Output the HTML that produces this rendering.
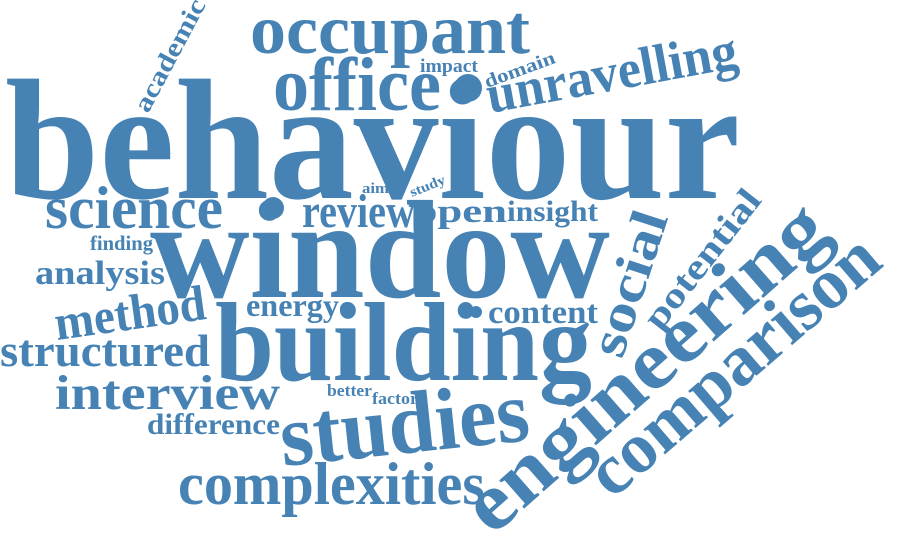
<!DOCTYPE html>
<html><head><meta charset="utf-8"><style>
html,body{margin:0;padding:0;background:#fff;width:900px;height:552px;overflow:hidden}
svg text{font-family:"Liberation Serif",serif;font-weight:bold;fill:#4682b4}
</style></head><body>
<svg width="900" height="552" viewBox="0 0 900 552">
<text x="5" y="198" font-size="172" textLength="735" lengthAdjust="spacingAndGlyphs">behaviour</text>
<text x="150" y="297" font-size="140" textLength="460" lengthAdjust="spacingAndGlyphs">window</text>
<text x="215" y="380" font-size="112" textLength="377" lengthAdjust="spacingAndGlyphs">building</text>
<text x="250" y="53" font-size="70" textLength="280" lengthAdjust="spacingAndGlyphs">occupant</text>
<text x="273" y="110" font-size="76" textLength="168" lengthAdjust="spacingAndGlyphs">office</text>
<circle cx="468" cy="88" r="14" fill="#4682b4"/>
<circle cx="273" cy="208" r="11" fill="#4682b4"/>
<text x="490" y="113" font-size="54" textLength="254" lengthAdjust="spacingAndGlyphs" transform="rotate(-10.4 490 113)">unravelling</text>
<text x="420" y="72" font-size="19" textLength="58" lengthAdjust="spacingAndGlyphs">impact</text>
<text x="487" y="88" font-size="19" textLength="74" lengthAdjust="spacingAndGlyphs" transform="rotate(-20 487 88)">domain</text>
<text x="148" y="114" font-size="26" textLength="124" lengthAdjust="spacingAndGlyphs" transform="rotate(-62 148 114)">academic</text>
<text x="362" y="193" font-size="15" textLength="27" lengthAdjust="spacingAndGlyphs">aim</text>
<text x="412" y="197" font-size="14" textLength="37" lengthAdjust="spacingAndGlyphs" transform="rotate(-22 412 197)">study</text>
<text x="45" y="228" font-size="60" textLength="178" lengthAdjust="spacingAndGlyphs">science</text>
<text x="302" y="227" font-size="48" textLength="113" lengthAdjust="spacingAndGlyphs">review</text>
<text x="415" y="222" font-size="33" textLength="92" lengthAdjust="spacingAndGlyphs">open</text>
<text x="507" y="221" font-size="30" textLength="91" lengthAdjust="spacingAndGlyphs">insight</text>
<text x="90" y="250" font-size="21" textLength="63" lengthAdjust="spacingAndGlyphs">finding</text>
<text x="35" y="284" font-size="34" textLength="130" lengthAdjust="spacingAndGlyphs">analysis</text>
<text x="57" y="340" font-size="50" textLength="152" lengthAdjust="spacingAndGlyphs" transform="rotate(-8 57 340)">method</text>
<text x="246" y="316" font-size="32" textLength="93" lengthAdjust="spacingAndGlyphs">energy</text>
<circle cx="347" cy="309" r="7" fill="#4682b4"/>
<circle cx="476" cy="312" r="6" fill="#4682b4"/>
<text x="488" y="323" font-size="33" textLength="110" lengthAdjust="spacingAndGlyphs">content</text>
<text x="622" y="360" font-size="52" textLength="150" lengthAdjust="spacingAndGlyphs" transform="rotate(-72 622 360)">social</text>
<text x="660" y="332" font-size="36" textLength="167" lengthAdjust="spacingAndGlyphs" transform="rotate(-52 660 332)">potential</text>
<text x="492" y="537" font-size="82" textLength="455" lengthAdjust="spacingAndGlyphs" transform="rotate(-41.4 492 537)">engineering</text>
<text x="612" y="500" font-size="72" textLength="360" lengthAdjust="spacingAndGlyphs" transform="rotate(-40.7 612 500)">comparison</text>
<text x="0" y="366" font-size="45" textLength="210" lengthAdjust="spacingAndGlyphs">structured</text>
<text x="55" y="409" font-size="49" textLength="225" lengthAdjust="spacingAndGlyphs">interview</text>
<text x="327" y="396" font-size="17" textLength="45" lengthAdjust="spacingAndGlyphs">better</text>
<text x="372" y="404" font-size="17" textLength="46" lengthAdjust="spacingAndGlyphs">factor</text>
<text x="147" y="434" font-size="30" textLength="133" lengthAdjust="spacingAndGlyphs">difference</text>
<text x="283" y="466" font-size="88" textLength="250" lengthAdjust="spacingAndGlyphs" transform="rotate(-6 283 466)">studies</text>
<text x="178" y="504" font-size="60" textLength="307" lengthAdjust="spacingAndGlyphs">complexities</text>
</svg>
</body></html>
